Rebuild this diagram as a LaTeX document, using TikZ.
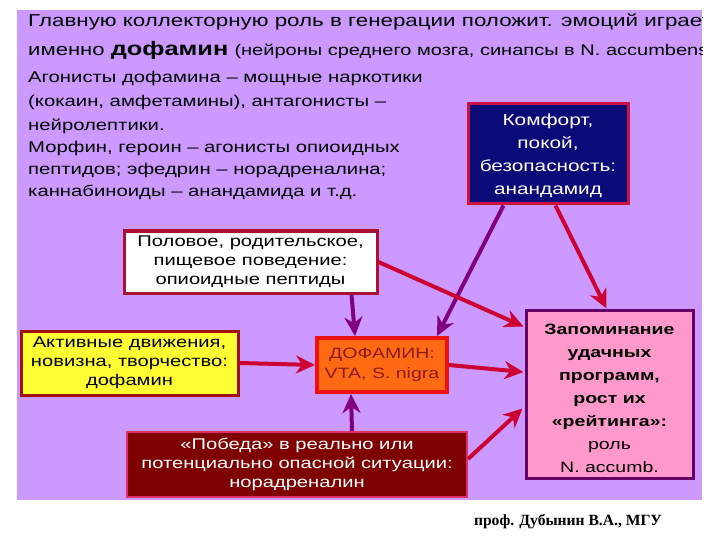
\documentclass[tikz,border=0pt]{standalone}
\usepackage{fontspec}
\setmainfont{Liberation Sans}[FakeStretch=1.3]
\newfontfamily\creditfont{Liberation Serif}
\usetikzlibrary{arrows.meta,calc}
\definecolor{bgpurple}{RGB}{204,153,255}
\definecolor{navyfill}{RGB}{10,10,120}
\definecolor{navyborder}{RGB}{204,17,68}
\definecolor{whiteborder}{RGB}{170,17,51}
\definecolor{yellowfill}{RGB}{255,255,51}
\definecolor{yellowborder}{RGB}{160,16,16}
\definecolor{dopfill}{RGB}{255,106,19}
\definecolor{dopborder}{RGB}{238,17,17}
\definecolor{doptext}{RGB}{139,26,26}
\definecolor{norfill}{RGB}{127,0,0}
\definecolor{norborder}{RGB}{224,48,106}
\definecolor{zapfill}{RGB}{255,153,204}
\definecolor{zapborder}{RGB}{102,0,102}
\definecolor{arrred}{RGB}{204,0,51}
\definecolor{arrpurple}{RGB}{128,0,128}
\tikzset{
  boxbase/.style={rectangle, inner sep=0pt, align=center, line width=3pt},
  hdrline/.style={anchor=west, inner sep=0pt, font=\fontsize{15.6}{19}\selectfont},
  redarr/.style={draw=arrred, line width=4pt, -{Stealth[length=19pt,width=18pt,inset=6pt]}},
  purarr/.style={draw=arrpurple, line width=4pt, -{Stealth[length=19pt,width=18pt,inset=6pt]}}
}
\begin{document}
\begin{tikzpicture}[x=1pt,y=-1pt]
\useasboundingbox (0,0) rectangle (720,540);
\fill[white] (0,0) rectangle (720,540);
\fill[bgpurple] (17,10) rectangle (702,500);
\begin{scope}
\clip (17,10) rectangle (702,500);
\node[hdrline, font=\fontsize{17.2}{20}\selectfont] (h1) at (28,22) {Главную коллекторную роль в генерации положит. эмоций играет};
\node[hdrline, font=\fontsize{17}{20}\selectfont] (h2) at (28,50) {именно {\bfseries\fontsize{19.5}{20}\selectfont дофамин} {\fontsize{15.4}{20}\selectfont(нейроны среднего мозга, синапсы в N. accumbens)}};
\end{scope}
\node[hdrline] (h3) at (28,78) {Агонисты дофамина – мощные наркотики};
\node[hdrline] (h4) at (28,102) {(кокаин, амфетамины), антагонисты –};
\node[hdrline] (h5) at (28,126) {нейролептики.};
\node[hdrline] (h6) at (28,148) {Морфин, героин – агонисты опиоидных};
\node[hdrline] (h7) at (28,170) {пептидов; эфедрин – норадреналина;};
\node[hdrline] (h8) at (28,192) {каннабиноиды – анандамида и т.д.};

\node[boxbase, fill=navyfill, draw=navyborder, text=white, minimum width=160pt, minimum height=100pt] (komf) at (548,154) {};
\node[inner sep=0pt, align=center, text=white, font=\fontsize{16}{23}\selectfont] (komftext) at (548,156) {Комфорт,\\покой,\\безопасность:\\анандамид};
\node[boxbase, fill=white, draw=whiteborder, minimum width=253pt, minimum height=62pt, font=\fontsize{15.5}{19}\selectfont] (polov) at (250.5,262) {Половое, родительское,\\пищевое поведение:\\опиоидные пептиды};
\node[boxbase, fill=yellowfill, draw=yellowborder, minimum width=217pt, minimum height=64pt, font=\fontsize{15.5}{19}\selectfont] (activ) at (129.5,363) {Активные движения,\\новизна, творчество:\\дофамин};
\node[boxbase, fill=dopfill, draw=dopborder, line width=4pt, text=doptext, minimum width=130pt, minimum height=54pt, font=\fontsize{15}{20}\selectfont] (dop) at (382,365) {ДОФАМИН:\\VTA, S. nigra};
\node[boxbase, fill=norfill, draw=norborder, line width=2pt, text=white, minimum width=340pt, minimum height=65pt, font=\fontsize{15.5}{19}\selectfont] (norad) at (297,464.5) {«Победа» в реально или\\потенциально опасной ситуации:\\норадреналин};
\node[boxbase, fill=zapfill, draw=zapborder, minimum width=167pt, minimum height=168pt] (zap) at (609.5,394) {};
\node[inner sep=0pt, align=center, font=\fontsize{15}{23}\selectfont] (zaptext) at (609.5,398) {\bfseries Запоминание\\\bfseries удачных\\\bfseries программ,\\\bfseries рост их\\\bfseries «рейтинга»:\\роль\\N. accumb.};

\node[inner sep=0pt, font=\creditfont\bfseries\fontsize{15.6}{17}\selectfont] (credit) at (568,522) {проф. Дубынин В.А., МГУ};

\draw[purarr] ($(komf.south west)+(37,0)$) -- ($(dop.north east)+(-12,0)$);
\draw[redarr] ($(komf.south west)+(89,0)$) -- ($(zap.north west)+(82,0)$);
\draw[redarr] (polov.east) -- ($(zap.north west)+(-1,18)$);
\draw[purarr] ($(polov.south east)+(-27,0)$) -- ($(dop.north west)+(40,0)$);
\draw[redarr] (activ.east) -- (dop.west);
\draw[redarr] (dop.east) -- ($(zap.west)+(-1,-22)$);
\draw[purarr] ($(norad.north west)+(226,0)$) -- ($(dop.south west)+(36,0)$);
\draw[redarr] ($(norad.north east)+(0,28)$) -- ($(zap.south west)+(-2,-71)$);
\end{tikzpicture}
\end{document}
